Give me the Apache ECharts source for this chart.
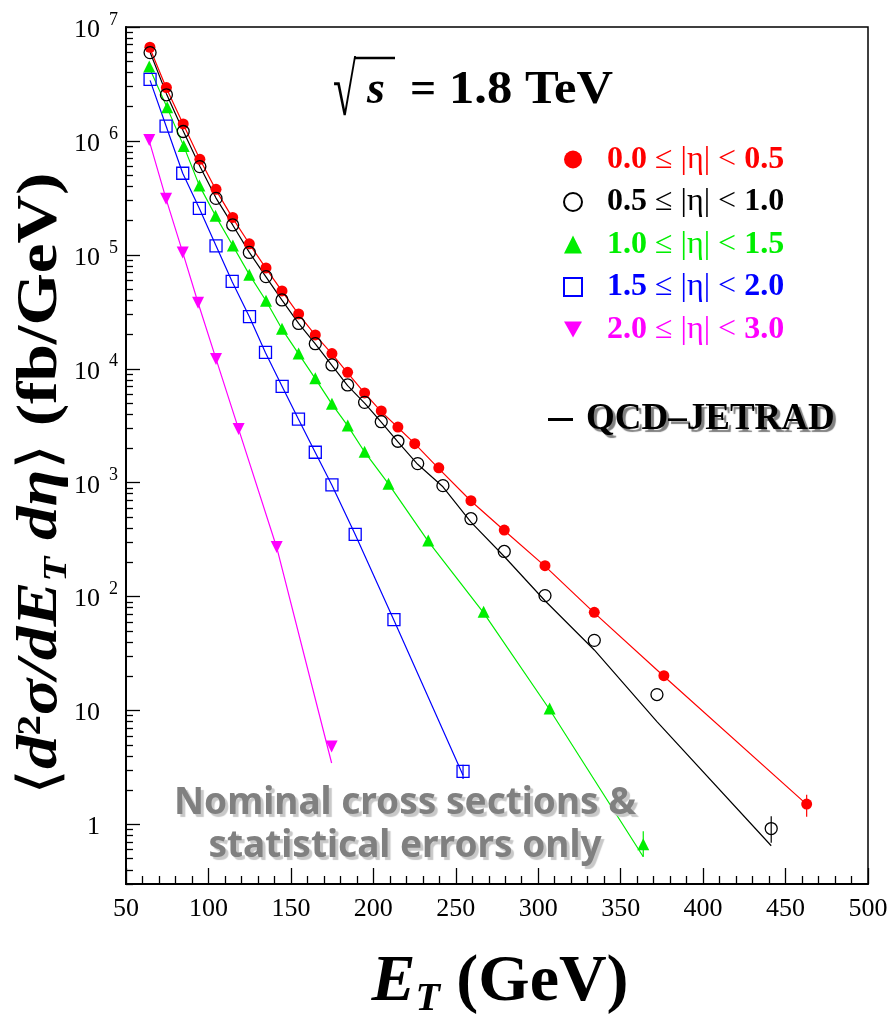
<!DOCTYPE html>
<html>
<head>
<meta charset="utf-8">
<script src="https://cdn.jsdelivr.net/npm/echarts@6/dist/echarts.min.js"></script>
<style>
  html, body { margin: 0; padding: 0; background: #fff; }
  #chart { width: 891px; height: 1014px; }
</style>
</head>
<body>
<div id="chart"></div>
<script>
// Inclusive jet cross sections <d2sigma/dET deta> (fb/GeV) vs ET (GeV), sqrt(s) = 1.8 TeV
const etaLabels = ['0.0 ≤ |η| < 0.5', '0.5 ≤ |η| < 1.0', '1.0 ≤ |η| < 1.5', '1.5 ≤ |η| < 2.0', '2.0 ≤ |η| < 3.0'];
const theoryLabel = 'QCD–JETRAD';

// 0.0 <= |eta| < 0.5
const etBin0 = [64.5, 74.5, 84.7, 94.8, 104.6, 114.7, 124.8, 134.9, 144.6, 154.7, 164.8, 174.9, 184.4, 194.7, 204.8, 214.9, 225.1, 239.7, 259.2, 279.4, 304.1, 334.0, 376.2, 462.8];
const xsBin0 = [6.64e6, 2.94e6, 1.41e6, 6.9e5, 3.76e5, 2.13e5, 1.25e5, 7.67e4, 4.82e4, 3.03e4, 1.98e4, 1.36e4, 9.3e3, 6.13e3, 4.26e3, 3.08e3, 2.2e3, 1.35e3, 695, 384, 187, 72.7, 20.2, 1.51];
const thBin0 = [6.5e6, 2.9e6, 1.4e6, 6.9e5, 3.7e5, 2.1e5, 1.25e5, 7.6e4, 4.8e4, 3.0e4, 1.97e4, 1.35e4, 9.2e3, 6.1e3, 4.2e3, 3.05e3, 2.2e3, 1.33e3, 690, 380, 185, 72, 20, 1.5];
const errBin0 = [[462.8, 1.17, 1.82]];

// 0.5 <= |eta| < 1.0
const etBin1 = [64.6, 74.5, 84.7, 94.8, 104.6, 114.7, 124.8, 134.9, 144.6, 154.7, 164.8, 174.9, 184.4, 194.7, 204.8, 214.9, 226.9, 242.2, 259.2, 279.4, 304.1, 334.0, 372.0, 441.3];
const xsBin1 = [5.96e6, 2.54e6, 1.21e6, 5.95e5, 3.13e5, 1.83e5, 1.05e5, 6.44e4, 4.02e4, 2.5e4, 1.66e4, 1.08e4, 7.21e3, 5.07e3, 3.43e3, 2.31e3, 1.47e3, 942, 483, 249, 102, 41.3, 13.8, 0.92];
const thBin1 = [6.0e6, 2.6e6, 1.22e6, 6.0e5, 3.15e5, 1.83e5, 1.05e5, 6.4e4, 4.0e4, 2.5e4, 1.65e4, 1.07e4, 7.1e3, 5.0e3, 3.4e3, 2.28e3, 1.45e3, 920, 450, 225, 92, 34, 8.0, 0.65];
const errBin1 = [[441.3, 0.69, 1.18]];

// 1.0 <= |eta| < 1.5
const etBin2 = [64.1, 75.0, 85.0, 94.5, 104.3, 114.8, 124.8, 134.9, 144.6, 154.7, 164.8, 174.9, 184.5, 194.7, 209.2, 233.3, 266.9, 306.9, 363.7];
const xsBin2 = [4.49e6, 1.97e6, 9.04e5, 4.07e5, 2.2e5, 1.21e5, 6.7e4, 3.96e4, 2.24e4, 1.36e4, 8.24e3, 4.94e3, 3.17e3, 1.87e3, 980, 310, 73.7, 10.4, 0.67];
const thBin2 = [4.4e6, 1.95e6, 9.0e5, 4.05e5, 2.2e5, 1.2e5, 6.7e4, 3.95e4, 2.23e4, 1.35e4, 8.2e3, 4.9e3, 3.15e3, 1.86e3, 975, 305, 72, 10.2, 0.52];
const errBin2 = [[363.7, 0.52, 0.87]];

// 1.5 <= |eta| < 2.0
const etBin3 = [64.6, 74.3, 84.4, 94.5, 104.6, 114.4, 124.9, 134.6, 144.7, 154.6, 164.8, 174.9, 189.0, 212.5, 254.4];
const xsBin3 = [3.47e6, 1.35e6, 5.2e5, 2.56e5, 1.2e5, 5.85e4, 2.87e4, 1.39e4, 7.01e3, 3.62e3, 1.85e3, 955, 352, 62.7, 2.92];
const thBin3 = [3.4e6, 1.35e6, 5.2e5, 2.55e5, 1.2e5, 5.8e4, 2.85e4, 1.38e4, 7.0e3, 3.6e3, 1.84e3, 950, 350, 62, 2.7];
const errBin3 = [[254.4, 2.5, 3.34]];

// 2.0 <= |eta| < 3.0
const etBin4 = [64.1, 74.3, 84.4, 93.7, 104.6, 118.3, 141.4, 174.7];
const xsBin4 = [1.02e6, 3.11e5, 1.05e5, 3.8e4, 1.22e4, 2960, 272, 4.84];
const thBin4 = [1.0e6, 3.1e5, 1.05e5, 3.8e4, 1.22e4, 2950, 270, 3.46];
const errBin4 = [];

// Axis tick values
const xTicks = [50, 100, 150, 200, 250, 300, 350, 400, 450, 500];
const yDecades = [1, 10, 100, 1000, 1e4, 1e5, 1e6, 1e7];
const yMinorTicks = [];
[0.1, 1, 10, 100, 1000, 1e4, 1e5, 1e6].forEach(function (d) {
  for (let k = 2; k <= 9; k++) {
    const v = +(k * d).toPrecision(3);
    if (v >= 0.3 && v <= 1e7) yMinorTicks.push(v);
  }
});

const SERIF = "'Liberation Serif', 'Times New Roman', serif";

const groups = [
  { label: etaLabels[0], et: etBin0, xs: xsBin0, th: thBin0, err: errBin0, color: '#ff0000', key: 'r', symbol: 'circle', size: 11, open: false },
  { label: etaLabels[1], et: etBin1, xs: xsBin1, th: thBin1, err: errBin1, color: '#000000', key: 'k', symbol: 'circle', size: 12, open: true },
  { label: etaLabels[2], et: etBin2, xs: xsBin2, th: thBin2, err: errBin2, color: '#00ee00', key: 'g', symbol: 'triangle', size: 12, open: false },
  { label: etaLabels[3], et: etBin3, xs: xsBin3, th: thBin3, err: errBin3, color: '#0000ff', key: 'b', symbol: 'rect', size: 12, open: true },
  { label: etaLabels[4], et: etBin4, xs: xsBin4, th: thBin4, err: errBin4, color: '#ff00ff', key: 'm', symbol: 'path://M0,0 L10,0 L5,9 Z', size: 12, open: false }
];
const keyByLabel = {};
groups.forEach(function (g) { keyByLabel[g.label] = g.key; });

const pairs = (xs, ys) => xs.map((x, i) => [x, ys[i]]);

const series = [];
// theory curves underneath
groups.forEach(function (g) {
  series.push({
    type: 'line', name: theoryLabel, data: pairs(g.et, g.th),
    showSymbol: false, symbol: 'none', silent: true, z: 2,
    lineStyle: { color: g.color, width: 1.2 }, itemStyle: { color: g.color }
  });
});
// statistical error bars
groups.forEach(function (g) {
  if (!g.err.length) return;
  series.push({
    type: 'custom', name: g.label + ' err', data: g.err, z: 3, silent: true,
    encode: { x: 0, y: [1, 2] },
    renderItem: function (params, api) {
      const a = api.coord([api.value(0), api.value(1)]);
      const b = api.coord([api.value(0), api.value(2)]);
      return { type: 'line', shape: { x1: a[0], y1: a[1], x2: b[0], y2: b[1] }, style: { stroke: g.color, lineWidth: 1.2 } };
    }
  });
});
// measured points (open markers drawn last)
[0, 2, 4, 3, 1].forEach(function (i) {
  const g = groups[i];
  series.push({
    type: 'scatter', name: g.label, data: pairs(g.et, g.xs), z: 4,
    symbol: g.symbol, symbolSize: g.size,
    itemStyle: g.open
      ? { color: 'rgba(255,255,255,0)', borderColor: g.color, borderWidth: 1.3, opacity: 1 }
      : { color: g.color, borderWidth: 0, opacity: 1 }
  });
});

const richLegend = { sp: { width: 20 } };
groups.forEach(function (g) {
  richLegend['n' + g.key] = { fontFamily: SERIF, fontSize: 32, fontWeight: 'bold', color: g.color };
  richLegend['o' + g.key] = { fontFamily: SERIF, fontSize: 32, fontWeight: 'normal', color: g.color };
});

const tickLine = { color: '#000', width: 1.3 };

const chart = echarts.init(document.getElementById('chart'), null, { renderer: 'canvas' });
chart.setOption({
  animation: false,
  backgroundColor: '#ffffff',
  grid: { left: 126, top: 27, width: 742, height: 857, show: true, borderColor: '#000', borderWidth: 1.5, backgroundColor: 'transparent' },
  xAxis: {
    type: 'value', min: 50, max: 500, interval: 50,
    axisLine: { show: true, onZero: false, lineStyle: { color: '#000', width: 2 } },
    axisTick: { show: true, inside: true, length: 16, lineStyle: tickLine },
    minorTick: { show: true, splitNumber: 5, length: 8, lineStyle: tickLine },
    axisLabel: { color: '#000', fontFamily: SERIF, fontSize: 26, margin: 12, customValues: xTicks },
    splitLine: { show: false }
  },
  yAxis: [
    {
      type: 'log', logBase: 10, min: 0.3, max: 1e7, position: 'left',
      axisLine: { show: true, lineStyle: { color: '#000', width: 2 } },
      axisTick: { show: true, inside: true, length: 14, lineStyle: tickLine, customValues: yDecades },
      axisLabel: {
        customValues: yDecades, margin: 8, color: '#000',
        formatter: function (v) {
          const e = Math.round(Math.log10(v));
          if (e === 0) return '{m|1}{e| }';
          if (e === 1) return '{m|10}{e| }';
          return '{m|10}{e|' + e + '}';
        },
        rich: {
          m: { fontFamily: SERIF, fontSize: 26, lineHeight: 32, verticalAlign: 'bottom', color: '#000' },
          e: { fontFamily: SERIF, fontSize: 18, lineHeight: 18, verticalAlign: 'top', width: 18, align: 'right', color: '#000' }
        }
      },
      splitLine: { show: false }
    },
    {
      type: 'log', logBase: 10, min: 0.3, max: 1e7, position: 'left', offset: 0,
      axisLine: { show: false },
      axisTick: { show: true, inside: true, length: 7, lineStyle: tickLine, customValues: yMinorTicks },
      axisLabel: { show: false },
      splitLine: { show: false }
    }
  ],
  legend: [
    {
      data: groups.map(g => ({ name: g.label })),
      orient: 'vertical', left: 563, top: 143, padding: 0,
      itemWidth: 18, itemHeight: 18, itemGap: 9.5,
      selectedMode: false,
      formatter: function (name) {
        const k = keyByLabel[name];
        const parts = name.split(' ≤ |η| < ');
        return '{sp| }{n' + k + '|' + parts[0] + '} {o' + k + '|≤ |η| <} {n' + k + '|' + parts[1] + '}';
      },
      textStyle: { fontFamily: SERIF, fontSize: 32, lineHeight: 33, rich: richLegend }
    },
    {
      data: [{ name: theoryLabel, icon: 'rect', itemStyle: { color: '#000', borderWidth: 0 } }],
      left: 548, top: 401, padding: 0, itemWidth: 25, itemHeight: 3, selectedMode: false,
      formatter: '{sp| }{q|{name}}',
      textStyle: {
        fontFamily: SERIF, fontSize: 37, fontWeight: 'bold', color: '#000',
        textShadowColor: '#808080', textShadowOffsetX: 3, textShadowOffsetY: 3,
        rich: {
          sp: { width: 8 },
          q: { fontFamily: SERIF, fontSize: 37, fontWeight: 'bold', color: '#000',
               textShadowColor: '#808080', textShadowOffsetX: 3, textShadowOffsetY: 3, textShadowBlur: 1 }
        }
      }
    }
  ],
  graphic: [
    // energy label: radical sign, its bar, then "s = 1.8 TeV"
    { type: 'text', x: 333, y: 58.5, scaleX: 0.7, scaleY: 1.24, z: 10,
      style: { text: '√', x: 0, y: 0, align: 'left', verticalAlign: 'top', fontFamily: SERIF, fontSize: 60, fill: '#000' } },
    { type: 'line', z: 10, shape: { x1: 354, y1: 58, x2: 395, y2: 58 }, style: { stroke: '#000', lineWidth: 2.5 } },
    { type: 'text', left: 367, top: 68, z: 10,
      style: { text: 's', fontFamily: SERIF, fontSize: 46, fontStyle: 'italic', fontWeight: 'bold', fill: '#000' } },
    { type: 'text', left: 410, top: 68, z: 10,
      style: { text: '=', fontFamily: SERIF, fontSize: 46, fontWeight: 'bold', fill: '#000' } },
    { type: 'text', x: 449, y: 68, scaleX: 1.1, z: 10,
      style: { text: '1.8 TeV', x: 0, y: 0, align: 'left', verticalAlign: 'top', fontFamily: SERIF, fontSize: 46, fontWeight: 'bold', fill: '#000' } },
    // y-axis title
    { type: 'text', x: 44, y: 484, rotation: Math.PI / 2, scaleX: 1.2, z: 10,
      style: {
        text: '{a|⟨}{i|d}{s|2}{i|σ/dE}{t|T}{i| dη}{a|⟩}{b| (fb/GeV)}',
        x: 0, y: 0, align: 'center', verticalAlign: 'middle',
        rich: {
          a: { fontFamily: SERIF, fontSize: 56, lineHeight: 60, verticalAlign: 'top', fill: '#000' },
          i: { fontFamily: SERIF, fontSize: 56, lineHeight: 60, verticalAlign: 'top', fontStyle: 'italic', fontWeight: 'bold', fill: '#000' },
          s: { fontFamily: SERIF, fontSize: 34, lineHeight: 34, verticalAlign: 'top', fontWeight: 'bold', fill: '#000' },
          t: { fontFamily: SERIF, fontSize: 34, lineHeight: 34, padding: [33, 0, 0, 0], verticalAlign: 'bottom', fontStyle: 'italic', fontWeight: 'bold', fill: '#000' },
          b: { fontFamily: SERIF, fontSize: 56, lineHeight: 60, verticalAlign: 'top', fontWeight: 'bold', fill: '#000' }
        }
      } },
    // x-axis title
    { type: 'text', x: 500, y: 985, z: 10,
      style: {
        text: '{E|E}{T|T}{b| (GeV)}',
        align: 'center', verticalAlign: 'middle',
        rich: {
          E: { fontFamily: SERIF, fontSize: 66, lineHeight: 70, verticalAlign: 'top', fontStyle: 'italic', fontWeight: 'bold', fill: '#000' },
          T: { fontFamily: SERIF, fontSize: 40, lineHeight: 40, padding: [40, 0, 0, 0], verticalAlign: 'bottom', fontStyle: 'italic', fontWeight: 'bold', fill: '#000' },
          b: { fontFamily: SERIF, fontSize: 66, lineHeight: 70, verticalAlign: 'top', fontWeight: 'bold', fill: '#000' }
        }
      } },
    // note on uncertainties
    { type: 'text', x: 405, y: 825, z: 10,
      style: {
        text: 'Nominal cross sections &\nstatistical errors only',
        align: 'center', verticalAlign: 'middle',
        fontFamily: "'Noto Sans', sans-serif", fontWeight: 'bold', fontSize: 37, lineHeight: 43,
        fill: '#808080', textShadowColor: '#c8c8c8', textShadowOffsetX: 3, textShadowOffsetY: 3, textShadowBlur: 1
      } }
  ],
  series: series
});
</script>
</body>
</html>
